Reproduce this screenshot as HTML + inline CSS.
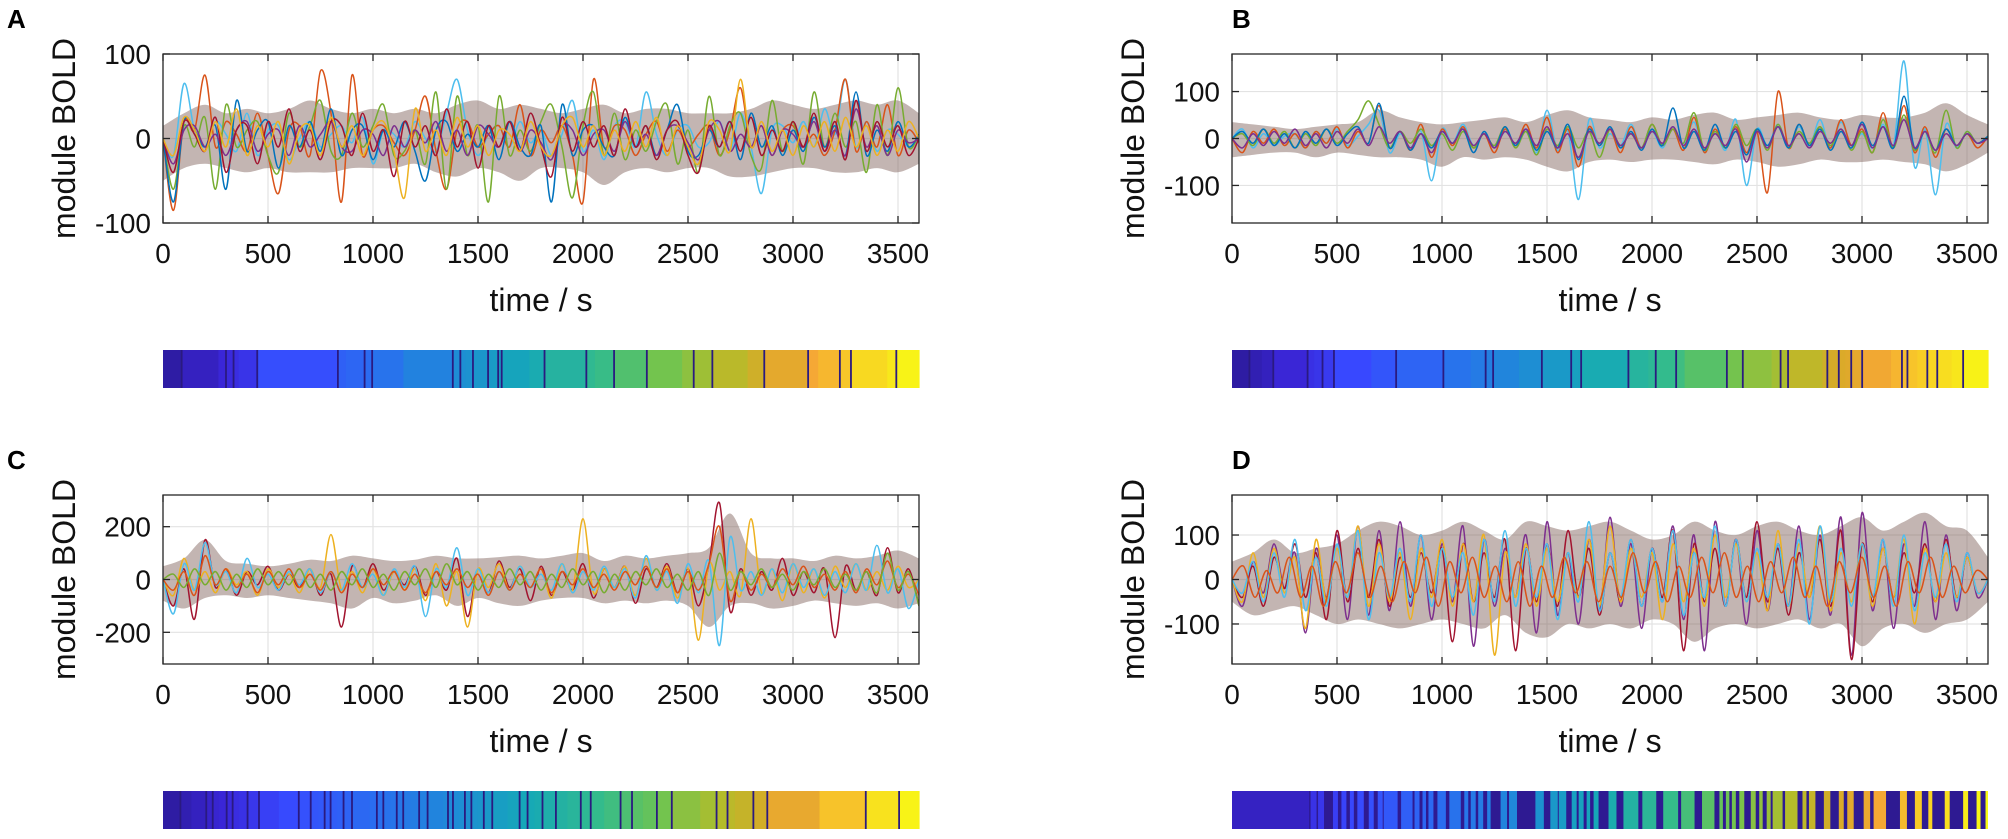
<!DOCTYPE html>
<html><head><meta charset="utf-8"><style>
html,body{margin:0;padding:0;background:#fff;}
svg{display:block;font-family:"Liberation Sans",Arial,sans-serif;}
</style></head><body>
<svg id="fig" width="2008" height="839" viewBox="0 0 2008 839" xmlns="http://www.w3.org/2000/svg"></svg>
<script>
const xTicks=[0,500,1000,1500,2000,2500,3000,3500];
const yTicksA=[-100,0,100], yTicksB=[-100,0,100], yTicksC=[-200,0,200], yTicksD=[-100,0,100];
const yMaxA=100, yMaxB=180, yMaxC=320, yMaxD=190;
const upperA=[15,30,40,30,35,30,35,45,35,30,35,30,35,30,40,45,35,40,35,30,35,40,30,35,35,30,30,30,35,45,40,35,40,45,40,45,30];
const lowerA=[-50,-35,-30,-35,-40,-35,-40,-40,-40,-35,-35,-35,-30,-40,-45,-35,-40,-50,-35,-35,-40,-55,-40,-35,-40,-35,-35,-45,-45,-40,-35,-35,-40,-40,-35,-40,-30];
const a1=[0,-20,65,10,-10,20,5,-15,30,-20,10,15,-25,0,20,-10,5,15,-5,25,-30,10,5,-10,20,0,-15,30,70,10,-20,5,15,-10,20,-5,10,-20,5,45,-15,10,-25,15,20,-10,55,5,-20,10,15,-10,-5,20,-15,30,-10,-65,10,15,-5,20,-10,35,5,70,-10,20,-15,10,5,-10,0];
const a2=[0,-85,20,10,75,-10,20,5,-15,30,-20,-65,10,15,-20,80,30,-75,75,-20,10,15,-5,-20,10,50,-15,-60,10,20,-10,5,15,-10,40,-20,10,-5,15,-20,-75,70,-10,15,10,-20,5,20,-15,10,-10,5,15,-20,10,60,-10,15,-20,10,15,-10,5,-20,10,70,-15,20,-10,40,-20,10,-5];
const a3=[0,-60,15,-10,25,-60,40,-10,10,20,-20,-40,30,-10,15,45,-15,-20,30,-10,15,40,-20,-15,10,-30,55,-60,50,-20,15,-75,50,-20,10,-15,20,40,-10,-70,15,55,-20,30,-25,10,-15,20,40,-30,10,-40,50,-20,15,30,-20,-35,45,-15,20,-30,55,-10,30,-10,20,-40,40,-20,60,-10,5];
const a4=[0,-75,20,10,-10,15,-60,45,-15,10,20,-35,15,-10,20,-15,35,-20,10,15,-25,10,-10,20,-15,-50,10,20,-15,5,-10,15,-25,20,-10,-20,15,-75,40,-20,10,15,-10,-20,25,-10,15,-20,10,40,-15,-20,10,-10,20,-25,30,-10,15,-20,10,-15,25,-10,15,-20,55,-20,10,-15,20,-10,5];
const a5=[0,-30,10,15,-10,5,-20,10,20,-15,5,10,-20,15,-10,5,20,-10,-15,10,5,-20,15,-10,10,-5,20,-15,10,-20,15,5,-10,20,-15,10,-5,-25,15,10,-20,5,10,-15,20,-10,5,-20,10,15,-5,-25,10,20,-15,5,-10,15,-20,10,5,-10,20,-15,10,-20,35,-10,15,-20,10,-5,0];
const a6=[0,-40,20,5,-15,25,-40,10,15,-30,20,-10,35,-15,10,-25,20,15,-20,30,-15,10,-45,20,-10,15,-20,35,-10,20,-35,15,-10,20,-15,30,-10,-45,25,-15,20,-10,15,-20,35,-10,15,-25,10,20,-20,-40,15,-10,20,-15,25,-20,10,-15,20,-10,30,-15,20,-25,45,-15,20,-10,15,-20,0];
const a7=[0,-20,25,10,-15,20,-10,35,-20,15,-10,20,-30,10,15,-20,25,-10,15,-20,10,20,-15,-70,35,-15,10,-20,25,-10,15,-20,10,5,-15,20,-10,-20,15,25,-10,15,-20,10,-15,20,-10,25,-20,15,-10,-30,20,10,-15,70,-10,20,-15,10,-20,15,-10,20,-15,25,-10,15,-20,10,-15,20,0];
const upperB=[35,30,25,20,25,30,35,60,45,35,30,35,40,45,35,50,60,45,40,35,45,40,50,55,40,45,50,55,45,40,50,45,45,55,75,50,30];
const lowerB=[-40,-35,-30,-30,-40,-30,-35,-40,-40,-45,-60,-40,-45,-40,-45,-60,-70,-50,-45,-50,-45,-45,-50,-55,-45,-50,-60,-55,-45,-50,-50,-45,-50,-55,-70,-55,-30];
const b1=[0,20,-20,10,-15,5,10,-20,15,-10,20,-15,5,30,60,-30,10,-20,15,-90,20,-10,30,-15,10,-20,15,-10,20,-30,60,-25,15,-130,40,-20,10,-15,30,-20,15,-20,25,-15,35,-30,15,-25,40,-100,20,-15,30,-20,25,-15,40,-20,35,-15,10,-20,30,-15,165,-60,20,-120,30,-20,15,-10,5];
const b2=[0,-30,15,-10,20,-15,10,-20,15,-10,25,-20,15,-10,70,-20,15,-25,30,-40,20,-15,25,-20,10,-30,20,-15,30,-20,45,-30,20,-60,25,-15,20,-30,25,-20,30,-15,20,-25,45,-30,20,-20,25,-30,15,-115,100,-20,30,-15,25,-20,40,-15,20,-30,55,-20,70,-30,25,-40,20,-15,10,-20,5];
const b3=[0,10,-15,20,-10,15,-20,10,-15,20,-10,15,40,80,30,-20,15,-10,20,-15,10,-25,15,-20,10,-15,25,-20,15,-35,20,-15,25,-20,15,-40,20,-15,10,-20,30,-15,20,-10,55,-25,15,-20,30,-15,20,-25,30,-20,15,-10,25,-15,20,-25,15,-30,40,-20,50,-25,15,-30,60,-20,15,-10,5];
const b4=[0,15,-10,20,-15,10,-20,15,-10,20,-15,10,25,-10,75,-20,15,-25,10,-20,15,-10,20,-30,15,-20,25,-15,20,-25,15,-20,30,-45,20,-15,25,-20,15,-25,20,-15,65,-20,15,-25,30,-20,15,-35,20,-15,25,-20,30,-15,20,-25,15,-20,35,-15,25,-20,90,-20,15,-25,20,-15,10,-10,5];
const b5=[0,-20,10,-15,15,-10,20,-15,10,-20,15,-10,20,-15,25,-10,15,-20,10,-30,15,-10,20,-15,10,-20,15,-10,20,-15,25,-20,10,-40,15,-10,20,-15,10,-20,15,-10,25,-15,20,-20,10,-15,20,-50,15,-20,25,-15,10,-20,15,-10,20,-15,30,-20,25,-15,40,-20,15,-25,10,-15,10,-10,0];
const upperC=[50,80,150,70,60,50,60,75,70,90,80,70,75,90,80,80,85,90,80,90,100,70,90,80,90,100,120,250,100,80,80,70,90,80,90,110,80];
const lowerC=[-80,-110,-70,-60,-70,-60,-70,-80,-90,-110,-70,-90,-80,-60,-100,-70,-90,-100,-80,-70,-70,-90,-80,-90,-80,-100,-180,-100,-90,-110,-100,-80,-90,-100,-90,-110,-90];
const c1=[0,-100,40,-150,150,-30,40,-60,30,-20,50,-40,20,-30,40,-60,20,-180,50,-30,60,-40,30,-20,50,-60,30,-40,80,-140,40,-50,70,-30,40,-80,50,-60,30,-40,60,-70,40,-30,50,-90,40,-30,60,-50,40,-100,60,290,-120,40,-60,30,-40,80,-60,30,-50,40,-220,50,-40,30,-60,120,-50,40,-100];
const c2=[0,-60,80,-40,30,-50,40,-20,30,-60,40,-30,20,-50,40,-30,170,-40,30,-50,40,-60,30,-40,40,-80,60,-100,30,-180,40,-30,60,-40,50,-30,40,-70,60,-40,230,-50,40,-30,50,-60,80,-40,50,-70,40,-230,60,-40,30,-60,230,-50,40,-80,60,-50,40,-70,50,-30,60,-40,30,-40,50,-30,0];
const c3=[0,-130,60,-40,140,-20,30,-50,80,-30,20,-40,30,-20,40,-50,30,-40,60,-30,20,-60,40,-30,50,-140,40,-30,120,-60,40,-50,30,-40,50,-30,20,-40,60,-50,30,-40,50,-30,40,-70,90,-40,30,-90,60,-50,70,-250,160,-40,30,-60,40,-50,60,-30,40,-60,30,-50,60,-40,130,-50,40,-110,0];
const c4=[0,-40,30,-60,90,-20,40,-30,20,-50,30,-20,40,-30,20,-40,30,-50,20,-30,40,-20,30,-40,20,-50,30,-20,40,-30,20,-60,30,-40,20,-30,40,-50,30,-20,40,-30,20,-40,30,-20,50,-30,40,-50,30,-40,60,200,-80,30,-40,20,-30,40,-20,50,-30,20,-40,30,-50,40,-20,70,-30,20,-60];
const c5=[0,20,-30,40,-20,30,-40,20,-30,40,-20,30,-20,40,-30,20,-40,30,-20,40,-30,20,-40,30,-20,40,-30,60,-20,30,-40,20,-30,40,-20,30,-40,20,-30,40,-20,30,-50,20,-40,30,-20,40,-30,20,-40,30,-60,100,-40,30,-20,40,-30,20,-40,30,-20,40,-30,20,-40,30,-50,100,-40,30,-100];
const upperD=[40,60,90,60,70,80,110,130,120,100,110,130,110,90,130,120,110,120,130,110,90,100,130,110,100,120,130,110,100,120,140,110,130,150,120,110,50];
const lowerD=[-50,-80,-70,-60,-80,-100,-90,-100,-110,-100,-90,-100,-110,-80,-120,-130,-100,-110,-100,-110,-90,-100,-140,-110,-100,-110,-100,-90,-110,-100,-150,-110,-100,-120,-100,-90,-50];
const d1=[0,-60,40,-30,80,-20,60,-120,70,-40,100,-90,120,-80,110,-70,130,-60,100,-90,80,-50,120,-150,90,-60,70,-40,100,-120,130,-80,60,-100,90,-70,140,-60,80,-110,70,-50,120,-90,100,-160,130,-60,90,-100,110,-70,80,-60,120,-90,100,-80,140,-170,150,-70,90,-110,80,-60,130,-90,100,-70,60,-40,0];
const d2=[0,-40,30,-60,50,-20,80,-40,60,-90,110,-50,70,-40,90,-60,50,-40,60,-30,70,-140,80,-50,60,-40,90,-160,70,-50,80,-60,110,-40,70,-80,60,-50,90,-60,70,-40,110,-160,80,-50,70,-60,90,-40,130,-50,70,-80,60,-40,90,-60,110,-180,80,-50,70,-40,60,-30,80,-50,90,-40,50,-30,0];
const d3=[0,-50,60,-40,70,-30,50,-110,90,-50,70,-40,120,-60,80,-50,60,-90,70,-40,90,-60,80,-50,100,-170,60,-40,80,-60,70,-50,60,-40,90,-60,120,-50,70,-40,60,-90,80,-50,70,-60,100,-40,80,-50,60,-70,110,-60,80,-40,120,-70,60,-50,80,-60,70,-40,90,-100,70,-50,60,-40,50,-30,0];
const d4=[0,-30,40,-50,60,-40,90,-70,50,-60,80,-40,110,-90,60,-40,70,-50,100,-60,70,-40,60,-80,90,-50,110,-60,70,-40,80,-90,60,-50,130,-70,60,-40,90,-60,70,-50,110,-80,60,-40,120,-60,90,-50,70,-40,80,-60,90,-100,120,-50,70,-60,80,-40,90,-60,100,-70,60,-40,80,-50,60,-30,0];
const d5=[0,30,-40,20,-30,50,-40,30,-60,40,-30,60,-40,30,-50,40,-30,50,-60,40,-30,50,-40,30,-50,40,-60,30,-40,50,-30,40,-50,30,-40,60,-30,40,-50,30,-40,50,-30,60,-40,30,-50,40,-30,50,-40,30,-60,40,-30,50,-40,30,-60,40,-30,50,-40,30,-30,20,0];
const barA=[37,110,125,140,150,187,347,363,400,415,477,575,590,600,615,645,655,665,672,727,757,840,857,895,960,1030,1053,1090,1160,1193,1280,1300,1343,1365,1437,1455,1500].map(v=>v/1500);
const barB=[35,60,83,152,165,182,205,280,330,425,480,510,525,577,623,682,697,702,797,837,852,893,910,995,1027,1085,1103,1118,1187,1197,1220,1233,1245,1267,1325,1347,1358,1378,1398,1418,1447,1470,1520].map(v=>v/1520);
const barC=[35,57,87,100,113,128,140,153,170,193,233,273,297,312,325,337,350,363,380,415,430,443,457,470,483,497,515,532,563,573,583,595,607,620,632,645,662,693,717,733,747,763,790,813,840,860,887,920,943,965,993,1023,1080,1113,1135,1150,1187,1215,1320,1413,1480,1520].map(v=>v/1520);
const barDcolored=[[0,155],[158,170],[173,185],[203,213],[220,230],[237,245],[252,265],[275,285],[293,303],[305,333],[340,363],[367,377],[383,390],[395,405],[413,430],[437,460],[467,475],[480,490],[495,505],[513,520],[540,553],[557,573],[610,627],[640,655],[657,672],[683,693],[697,707],[713,720],[727,737],[757,773],[787,817],[825,853],[867,897],[903,930],[945,970],[980,987],[993,1000],[1005,1013],[1020,1030],[1043,1053],[1060,1067],[1075,1083],[1087,1107],[1112,1137],[1147,1155],[1160,1173],[1190,1203],[1220,1230],[1237,1250],[1270,1283],[1290,1315],[1343,1357],[1373,1387],[1400,1408],[1433,1443],[1470,1480],[1497,1505],[1515,1520]];

const cols=["#0072BD","#D95319","#EDB120","#7E2F8E","#77AC30","#4DBEEE","#A2142F"];
const NS="http://www.w3.org/2000/svg";
const svg=document.getElementById('fig');
function mk(tag,attrs,parent){const e=document.createElementNS(NS,tag);for(const k in attrs)e.setAttribute(k,attrs[k]);(parent||svg).appendChild(e);return e;}
const stops=[[0,[44,26,154]],[0.08,[58,38,216]],[0.16,[56,72,255]],[0.28,[42,110,240]],[0.38,[31,138,216]],[0.48,[21,168,184]],[0.58,[53,188,138]],[0.66,[112,196,80]],[0.74,[180,188,42]],[0.8,[216,170,40]],[0.86,[245,168,53]],[0.92,[248,210,36]],[1,[248,250,20]]];
function parula(t){t=Math.max(0,Math.min(1,t));for(let i=1;i<stops.length;i++){if(t<=stops[i][0]){const a=stops[i-1],b=stops[i];const f=(t-a[0])/(b[0]-a[0]);const c=a[1].map((v,j)=>Math.round(v+(b[1][j]-v)*f));return `rgb(${c[0]},${c[1]},${c[2]})`;}}return 'rgb(248,250,20)';}
function smooth(pts){let d=`M${pts[0][0].toFixed(1)},${pts[0][1].toFixed(1)}`;for(let i=0;i<pts.length-1;i++){const p0=pts[Math.max(0,i-1)],p1=pts[i],p2=pts[i+1],p3=pts[Math.min(pts.length-1,i+2)];const c1x=p1[0]+(p2[0]-p0[0])/6,c1y=p1[1]+(p2[1]-p0[1])/6,c2x=p2[0]-(p3[0]-p1[0])/6,c2y=p2[1]-(p3[1]-p1[1])/6;d+=`C${c1x.toFixed(1)},${c1y.toFixed(1)} ${c2x.toFixed(1)},${c2y.toFixed(1)} ${p2[0].toFixed(1)},${p2[1].toFixed(1)}`;}return d;}

function panel(id,letter,L,T,yMax,yTicks,upper,lower,series,bar,barIsD){
  const W=756,H=169,R=L+W,B=T+H;
  const g=mk('g',{});
  
  
  const xs=v=>L+v/3600*W, ys=v=>T+H/2-v/yMax*(H/2);
  const lt=mk('text',{x:L-156+(id==='b'||id==='d'?156:0),y:T-26,'font-size':26,'font-weight':'bold',fill:'#000'},g);
  lt.textContent=letter;
  
  
  const cp=mk('clipPath',{id:'clip'+id},g);mk('rect',{x:L,y:T,width:W,height:H},cp);
  mk('rect',{x:L,y:T,width:W,height:H,fill:'#fff'},g);
  xTicks.forEach(v=>{const gl=mk('line',{x1:xs(v),x2:xs(v),y1:T,y2:B,stroke:'#e3e3e3','stroke-width':1.2},g);});
  yTicks.forEach(v=>{const gl=mk('line',{x1:L,x2:R,y1:ys(v),y2:ys(v),stroke:'#e3e3e3','stroke-width':1.2},g);});
  const plot=mk('g',{'clip-path':`url(#clip${id})`},g);
  const up=upper.map((v,i)=>[xs(i*3600/(upper.length-1)),ys(v)]);
  const lo=lower.map((v,i)=>[xs(i*3600/(lower.length-1)),ys(v)]).reverse();
  const band=mk('path',{d:smooth(up)+' L'+smooth(lo).slice(1)+'Z',fill:'#7a5a55','fill-opacity':0.45},plot);
  
  
  series.forEach((s,k)=>{
    const pts=s.map((v,i)=>[xs(i*3600/(s.length-1)),ys(v)]);
    const p=mk('path',{d:smooth(pts),fill:'none',stroke:cols[(k*3+({a:5,b:5,c:6,d:3})[id])%7],'stroke-width':1.5},plot);
    
    
  });
  const ax=mk('rect',{x:L,y:T,width:W,height:H,fill:'none',stroke:'#262626','stroke-width':1.3},g);
  
  
  xTicks.forEach(v=>{
    mk('line',{x1:xs(v),x2:xs(v),y1:B,y2:B-7,stroke:'#262626','stroke-width':1.3},g);
    mk('line',{x1:xs(v),x2:xs(v),y1:T,y2:T+7,stroke:'#262626','stroke-width':1.3},g);
    const t=mk('text',{x:xs(v),y:B+40,'font-size':28,'text-anchor':'middle',fill:'#111'},g);
    t.textContent=v;
    
    
  });
  yTicks.forEach(v=>{
    mk('line',{x1:L,x2:L+7,y1:ys(v),y2:ys(v),stroke:'#262626','stroke-width':1.3},g);
    mk('line',{x1:R,x2:R-7,y1:ys(v),y2:ys(v),stroke:'#262626','stroke-width':1.3},g);
    const t=mk('text',{x:L-12,y:ys(v)+10,'font-size':28,'text-anchor':'end',fill:'#111'},g);
    t.textContent=v;
    
    
  });
  const xl=mk('text',{x:L+W/2,y:B+88,'font-size':32,'text-anchor':'middle',fill:'#111'},g);
  xl.textContent='time / s';
  
  
  const yl=mk('text',{x:0,y:0,'font-size':32,'text-anchor':'middle',fill:'#111',transform:`translate(${L-88},${T+H/2}) rotate(-90)`},g);
  yl.textContent='module BOLD';
  
  
  const cbT=T+296, cbH=38;
  const cb=mk('g',{},g);
  
  
  const cx=f=>L+f*W;
  if(!barIsD){
    let prev=0;
    bar.forEach((b,i)=>{
      const seg=mk('rect',{x:cx(prev),y:cbT,width:Math.max(0,cx(b)-cx(prev))+0.6,height:cbH,fill:parula((prev+b)/2)},cb);
      
      
      prev=b;
    });
    bar.slice(0,-1).forEach((b,i)=>{ if(i%3!==1){const ln=mk('line',{x1:cx(b),x2:cx(b),y1:cbT,y2:cbT+cbH,stroke:'#2a1a80','stroke-width':1.8},cb);}});
  } else {
    mk('rect',{x:L,y:cbT,width:W,height:cbH,fill:'#2e1a92'},cb);
    bar.forEach(pr=>{
      const a=pr[0]/1520,b=pr[1]/1520;
      const seg=mk('rect',{x:cx(a),y:cbT,width:cx(b)-cx(a),height:cbH,fill:parula((a+b)/2)},cb);
      
      
    });
  }
}
panel('a','A',163,54,yMaxA,yTicksA,upperA,lowerA,[a1,a2,a3,a4,a5,a6,a7],barA,false);
panel('b','B',1232,54,yMaxB,yTicksB,upperB,lowerB,[b1,b2,b3,b4,b5],barB,false);
panel('c','C',163,495,yMaxC,yTicksC,upperC,lowerC,[c1,c2,c3,c4,c5],barC,false);
panel('d','D',1232,495,yMaxD,yTicksD,upperD,lowerD,[d1,d2,d3,d4,d5],barDcolored,true);
</script>
</body></html>
